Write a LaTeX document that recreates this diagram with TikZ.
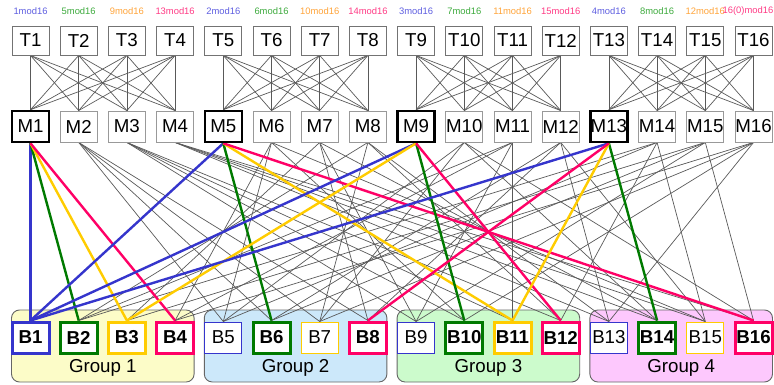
\documentclass[tikz,border=0pt]{standalone}
\usepackage{fontspec}
\setmainfont{Liberation Sans}
\definecolor{cblue}{HTML}{3535CC}
\definecolor{cgreen}{HTML}{007A00}
\definecolor{cyellow}{HTML}{FFCC00}
\definecolor{cred}{HTML}{FF0066}
\definecolor{lblue}{HTML}{5E5EE0}
\definecolor{lgreen}{HTML}{3DAA3D}
\definecolor{lorange}{HTML}{FFA43A}
\definecolor{lpink}{HTML}{FF3B85}
\definecolor{gyellow}{HTML}{FCFCC8}
\definecolor{gblue}{HTML}{CCE8FA}
\definecolor{ggreen}{HTML}{CCFBCC}
\definecolor{gpink}{HTML}{FDC8FD}
\pgfdeclarelayer{groups}
\pgfdeclarelayer{wires}
\pgfsetlayers{groups,wires,main}
\tikzset{
  big/.style={font=\fontsize{18.7}{20}\selectfont},
  tbox/.style={big, draw=black!55, fill=white, line width=0.9pt,
    minimum width=37pt, minimum height=29pt, inner sep=0pt},
  mbox/.style={tbox, draw=black!40, minimum height=31pt},
  mkey/.style={mbox, draw=black, line width=2.6pt},
  bthin/.style={big, draw=#1, fill=white, line width=1pt,
    minimum width=37pt, minimum height=31pt, inner sep=0pt},
  bbold/.style={bthin=#1, line width=3pt, font=\fontsize{18.7}{20}\selectfont\bfseries},
  wire/.style={draw=black!65, line width=0.7pt},
  keywire/.style={draw=#1, line width=2.4pt},
  modlabel/.style={font=\fontsize{9.4}{10}\selectfont, text=#1, inner sep=0pt},
  grp/.style={draw=black!60, fill=#1, rounded corners=8pt, line width=0.9pt}
}
\begin{document}
\begin{tikzpicture}[x=1pt,y=-1pt]
\useasboundingbox (0,0) rectangle (774,385);

% residue-class labels above the top row
\foreach \i/\txt/\c in {1/1mod16/lblue, 2/5mod16/lgreen, 3/9mod16/lorange, 4/13mod16/lpink,
    5/2mod16/lblue, 6/6mod16/lgreen, 7/10mod16/lorange, 8/14mod16/lpink,
    9/3mod16/lblue, 10/7mod16/lgreen, 11/11mod16/lorange, 12/15mod16/lpink,
    13/4mod16/lblue, 14/8mod16/lgreen, 15/12mod16/lorange} {
  \pgfmathsetmacro\xx{30.5+48.2*(\i-1)}
  \node[modlabel=\c] (L\i) at (\xx,11) {\txt};
}
% the last label is pushed in against the right edge
\node[modlabel=lpink, anchor=east] (L16) at (773.5,11) {16(0)mod16};

% top row
\foreach \i in {1,...,16} {
  \pgfmathsetmacro\xx{30.5+48.2*(\i-1)}
  \node[tbox] (T\i) at (\xx,40.5) {T\i};
}

% middle row
\foreach \i in {1,...,16} {
  \pgfmathsetmacro\xx{30.5+48.2*(\i-1)}
  \pgfmathtruncatemacro\r{mod(\i-1,4)}
  \ifnum\r=0
    \node[mkey] (M\i) at (\xx,126.5) {M\i};
  \else
    \node[mbox] (M\i) at (\xx,126.5) {M\i};
  \fi
}

% bottom row
\node[bbold=cblue]   (B1)  at ( 30.5,337.5) {B1};
\node[bbold=cgreen]  (B2)  at ( 78.7,337.5) {B2};
\node[bbold=cyellow] (B3)  at (126.9,337.5) {B3};
\node[bbold=cred]    (B4)  at (175.1,337.5) {B4};
\node[bthin=cblue]   (B5)  at (223.3,337.5) {B5};
\node[bbold=cgreen]  (B6)  at (271.5,337.5) {B6};
\node[bthin=cyellow] (B7)  at (319.7,337.5) {B7};
\node[bbold=cred]    (B8)  at (367.9,337.5) {B8};
\node[bthin=cblue]   (B9)  at (416.1,337.5) {B9};
\node[bbold=cgreen]  (B10) at (464.3,337.5) {B10};
\node[bbold=cyellow] (B11) at (512.5,337.5) {B11};
\node[bbold=cred]    (B12) at (560.7,337.5) {B12};
\node[bthin=cblue]   (B13) at (608.9,337.5) {B13};
\node[bbold=cgreen]  (B14) at (657.1,337.5) {B14};
\node[bthin=cyellow] (B15) at (705.3,337.5) {B15};
\node[bbold=cred]    (B16) at (753.5,337.5) {B16};

% group panels
\begin{pgfonlayer}{groups}
\foreach \g/\c/\n in {0/gyellow/1, 1/gblue/2, 2/ggreen/3, 3/gpink/4} {
  \pgfmathsetmacro\xa{30.5+48.2*4*\g-19}
  \pgfmathsetmacro\xb{\xa+38+48.2*3}
  \draw[grp=\c] (\xa,310) rectangle (\xb,382);
  \node[big] (G\n) at ({(\xa+\xb)/2},368) {Group \n};
}
\end{pgfonlayer}

\begin{pgfonlayer}{wires}
% full crossbar inside each block of four
\foreach \g in {0,...,3} {
  \foreach \a in {1,...,4} {
    \foreach \b in {1,...,4} {
      \pgfmathtruncatemacro\ta{4*\g+\a}
      \pgfmathtruncatemacro\mb{4*\g+\b}
      \draw[wire] (T\ta.south) -- (M\mb.north);
    }
  }
}
% M(4g+k+1) feeds position p of group (g*p+k) mod 4
\foreach \g in {0,...,3} {
  \foreach \k in {1,2,3} {
    \foreach \p in {0,...,3} {
      \pgfmathtruncatemacro\mi{4*\g+\k+1}
      \pgfmathtruncatemacro\bi{4*mod(\g*\p+\k,4)+\p+1}
      \draw[wire] (M\mi.south) -- (B\bi.north);
    }
  }
}
\foreach \g in {0,...,3} {
  \foreach \p/\c in {0/cblue,1/cgreen,2/cyellow,3/cred} {
    \pgfmathtruncatemacro\mi{4*\g+1}
    \pgfmathtruncatemacro\bi{4*mod(\g*\p,4)+\p+1}
    \draw[keywire=\c] (M\mi.south) -- (B\bi.north);
  }
}
\end{pgfonlayer}
\end{tikzpicture}
\end{document}
